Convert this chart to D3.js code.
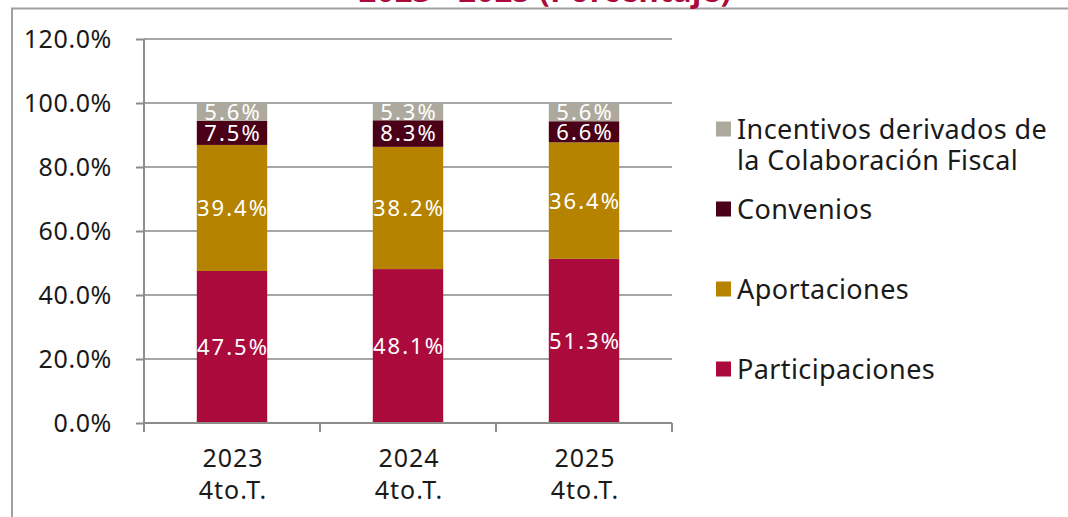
<!DOCTYPE html>
<html lang="es">
<head>
<meta charset="UTF-8">
<script src="https://d3js.org/d3.v7.min.js"></script>
<style>
  body { margin: 0; background: #fff; }
  svg text { font-family: "Noto Sans", "DejaVu Sans", sans-serif; }
</style>
</head>
<body>
<svg id="svg" width="1068" height="517"></svg>
<script>
// data
var years = ["2023|4to.T.", "2024|4to.T.", "2025|4to.T."];
var series = ["Participaciones", "Aportaciones", "Convenios", "Incentivos derivados de la Colaboración Fiscal"];
var participaciones = [47.5, 48.1, 51.3];
var aportaciones = [39.4, 38.2, 36.4];
var convenios = [7.5, 8.3, 6.6];
var incentivos = [5.6, 5.3, 5.6];
var yTicks = [0, 20, 40, 60, 80, 100, 120];
var colors = ["#ab0a3d", "#b58300", "#4a0016", "#ada99d"];

var values = [participaciones, aportaciones, convenios, incentivos];
var rows = years.map(function (y, i) {
  var r = { year: y };
  series.forEach(function (s, k) { r[s] = values[k][i]; });
  return r;
});
var stacked = d3.stack().keys(series)(rows);

var svg = d3.select("#svg");

// outer frame (left and top edges visible)
svg.append("path")
  .attr("d", "M12,517 L12,8.5 L1068,8.5")
  .attr("fill", "none")
  .attr("stroke", "#a0a0a0")
  .attr("stroke-width", 2);

// title, mostly cut off at the top
svg.append("text")
  .attr("x", 545)
  .attr("y", 2)
  .attr("text-anchor", "middle")
  .attr("font-size", 31)
  .attr("font-weight", "bold")
  .attr("letter-spacing", 0.4)
  .attr("fill", "#ab0a3d")
  .text("2023 - 2025 (Porcentaje)");

var x = d3.scaleBand().domain(years).range([144, 672]).paddingInner(0.6).paddingOuter(0.3);
var y = d3.scaleLinear().domain([0, 120]).range([423, 39]);

// gridlines
svg.append("g")
  .selectAll("line")
  .data(yTicks.slice(1))
  .enter()
  .append("line")
  .attr("x1", 144)
  .attr("x2", 672)
  .attr("y1", function (d) { return y(d); })
  .attr("y2", function (d) { return y(d); })
  .attr("stroke", "#a6a6a6")
  .attr("stroke-width", 2);

// bars
var layers = svg.append("g")
  .selectAll("g")
  .data(stacked)
  .enter()
  .append("g")
  .attr("fill", function (d, i) { return colors[i]; });

layers.selectAll("rect")
  .data(function (d) { return d; })
  .enter()
  .append("rect")
  .attr("x", function (d) { return x(d.data.year); })
  .attr("width", x.bandwidth())
  .attr("y", function (d) { return y(d[1]); })
  .attr("height", function (d) { return y(d[0]) - y(d[1]); });

layers.selectAll("text")
  .data(function (d) { return d; })
  .enter()
  .append("text")
  .attr("x", function (d) { return x(d.data.year) + x.bandwidth() / 2 + 1; })
  .attr("y", function (d) { return (y(d[0]) + y(d[1])) / 2; })
  .attr("dy", "0.36em")
  .attr("text-anchor", "middle")
  .attr("font-size", 22)
  .attr("letter-spacing", 2)
  .attr("fill", "#fff")
  .text(function (d) { return (d[1] - d[0]).toFixed(1) + "%"; });

// y axis
var yAxis = svg.append("g")
  .attr("transform", "translate(144,0)")
  .call(d3.axisLeft(y).tickValues(yTicks).tickSize(8).tickPadding(24)
    .tickFormat(function (d) { return d.toFixed(1) + "%"; }));
yAxis.select(".domain").attr("stroke", "#8c8c8c").attr("stroke-width", 2).attr("d", "M0,39V423");
yAxis.selectAll(".tick line").attr("stroke", "#8c8c8c").attr("stroke-width", 2);
yAxis.selectAll("text").attr("font-size", 25).attr("letter-spacing", 0.6).attr("fill", "#1a1a1a");

// x axis with ticks at band boundaries
var xAxisG = svg.append("g").attr("transform", "translate(0,423)");
xAxisG.append("line")
  .attr("x1", 144).attr("x2", 672)
  .attr("stroke", "#8c8c8c").attr("stroke-width", 2);
var bounds = d3.range(years.length + 1).map(function (i) { return 144 + i * x.step() * (528 / (x.step() * years.length)); });
xAxisG.selectAll(".bt")
  .data(bounds)
  .enter()
  .append("line")
  .attr("x1", function (d) { return d; })
  .attr("x2", function (d) { return d; })
  .attr("y1", 0).attr("y2", 9)
  .attr("stroke", "#8c8c8c").attr("stroke-width", 2);

var xl = xAxisG.selectAll(".xl")
  .data(years)
  .enter()
  .append("text")
  .attr("text-anchor", "middle")
  .attr("font-size", 25)
  .attr("letter-spacing", 1)
  .attr("fill", "#1a1a1a");
xl.append("tspan").attr("x", function (d) { return x(d) + x.bandwidth() / 2 + 1; }).attr("y", 44).text(function (d) { return d.split("|")[0]; });
xl.append("tspan").attr("x", function (d) { return x(d) + x.bandwidth() / 2 + 1; }).attr("y", 76).text(function (d) { return d.split("|")[1]; });

// legend (top item first)
var legendItems = [
  { lines: ["Incentivos derivados de", "la Colaboración Fiscal"], color: colors[3], cy: 129 },
  { lines: ["Convenios"], color: colors[2], cy: 209 },
  { lines: ["Aportaciones"], color: colors[1], cy: 289 },
  { lines: ["Participaciones"], color: colors[0], cy: 369 }
];
var lg = svg.append("g").selectAll("g").data(legendItems).enter().append("g");
lg.append("rect")
  .attr("x", 716).attr("width", 15).attr("height", 15)
  .attr("y", function (d) { return d.cy - 7.5; })
  .attr("fill", function (d) { return d.color; });
lg.each(function (d) {
  var t = d3.select(this).append("text").attr("font-size", 27).attr("letter-spacing", 0.4).attr("fill", "#1a1a1a");
  d.lines.forEach(function (l, i) {
    t.append("tspan").attr("x", 737).attr("y", d.cy + i * 31).attr("dy", "0.36em").text(l);
  });
});
</script>
</body>
</html>
